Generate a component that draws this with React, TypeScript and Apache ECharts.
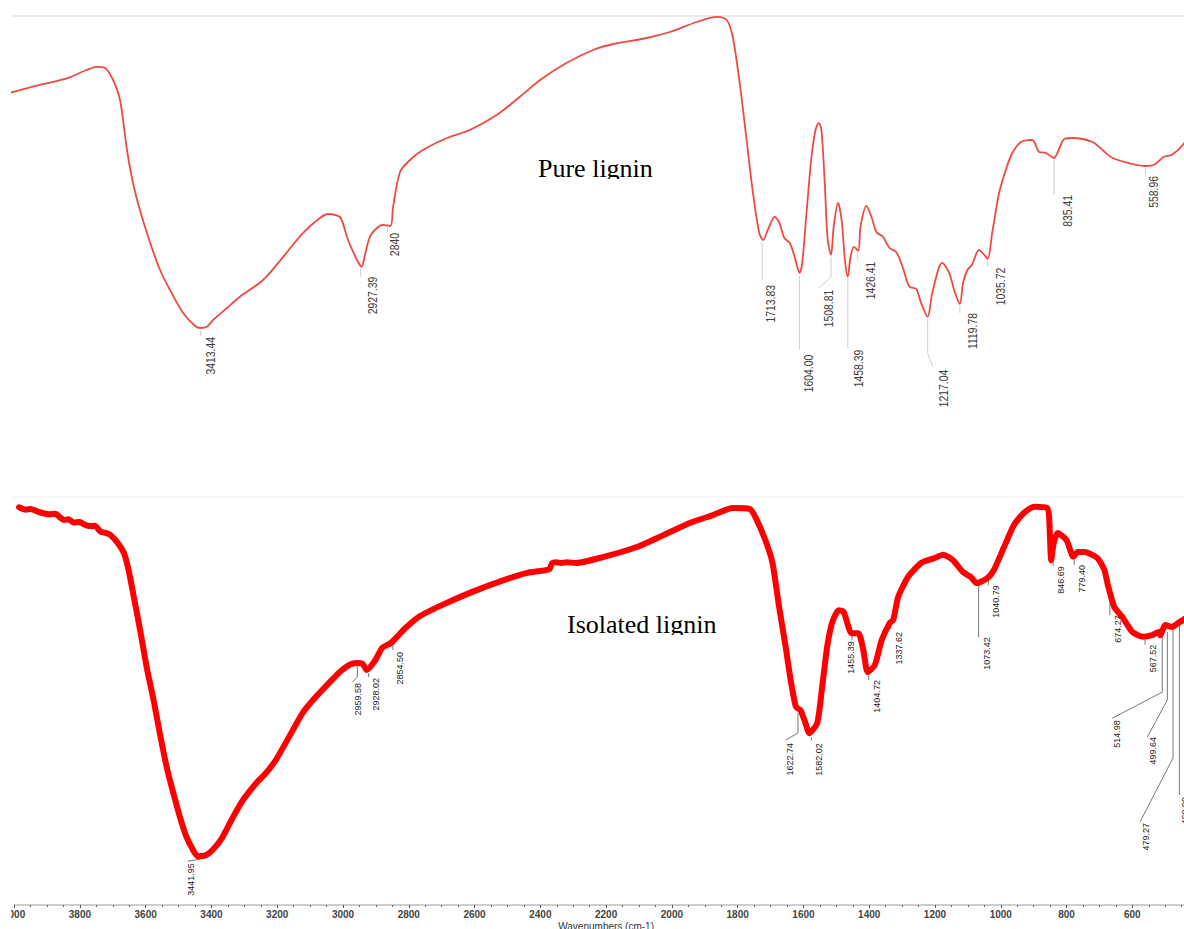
import React, { useEffect, useRef } from "react";
import * as echarts from "echarts";

// Shared wavenumber axis (cm-1), drawn high to low
const AXIS_MIN = 400;
const AXIS_MAX = 4000;
const AXIS_STEP = 200;

// Pure lignin spectrum (transmittance, arbitrary %)
const pureWavenumbers = [
  3990, 3899, 3818, 3758, 3727, 3702, 3678, 3657, 3636, 3618, 3597, 3566, 3536, 3506, 3467, 3430,
  3413.44, 3395, 3376, 3334, 3295, 3225, 3164, 3104, 3053, 3029, 3005, 2990, 2968, 2944, 2927.39,
  2917, 2902, 2881, 2863, 2840, 2832, 2811, 2781, 2742, 2669, 2600, 2518, 2449, 2388, 2307, 2228,
  2167, 2066, 1996, 1915, 1855, 1824, 1806, 1785, 1764, 1746, 1726, 1713.83, 1700, 1679, 1665, 1650,
  1634, 1619, 1604.0, 1596, 1584, 1569, 1556, 1546, 1538, 1528, 1519, 1508.81, 1501, 1488, 1477,
  1467, 1458.39, 1450, 1440, 1426.41, 1420, 1402, 1387, 1372, 1352, 1332, 1312, 1293, 1272, 1252,
  1237, 1217.04, 1203, 1173, 1152, 1137, 1119.78, 1110, 1097, 1083, 1062, 1046, 1035.72, 1022, 1001,
  981, 961, 935, 901, 880, 860, 835.41, 825, 803, 779, 719, 689, 658, 598, 558.96, 533, 503, 479,
  446, 420,
];
const pureTransmittance = [
  80.8, 82.8, 84.4, 86.5, 87.3, 87.0, 84.0, 79.0, 66.5, 58.3, 51.5, 43.3, 36.5, 31.5, 25.8, 22.5,
  22.0, 22.3, 24.0, 27.0, 29.8, 34.0, 39.8, 45.8, 49.5, 50.5, 50.2, 49.5, 44.0, 39.5, 37.3,
  40.3, 44.8, 47.0, 47.8, 47.5, 52.3, 61.0, 64.0, 66.5, 69.5, 71.5, 75.3, 79.8, 84.0, 88.3, 91.5,
  93.0, 94.5, 96.0, 98.5, 99.8, 99.0, 94.8, 83.3, 69.0, 56.5, 45.8, 44.0, 46.5, 49.8, 48.3, 44.5,
  43.3, 39.8, 35.8, 38.3, 49.8, 64.0, 71.5, 73.3, 71.5, 58.3, 44.0, 40.3, 47.3, 53.3, 49.0,
  39.0, 34.8, 39.8, 42.3, 41.3, 47.3, 52.5, 49.8, 46.0, 44.8, 42.0, 41.0, 37.3, 32.3, 31.8,
  28.3, 24.8, 30.8, 38.3, 35.8, 31.5, 28.0, 33.3, 36.5, 37.8, 41.5, 40.3, 39.3, 45.8, 55.8,
  61.5, 65.8, 68.5, 69.0, 66.0, 65.8, 64.5, 65.8, 69.3, 69.5, 68.5, 66.5, 64.5, 63.0, 62.5, 62.8, 64.8, 65.3,
  67.8, 71.5,
];
const purePeakLabels = [
  "3413.44", "2927.39", "2840", "1713.83", "1604.00", "1508.81", "1458.39",
  "1426.41", "1217.04", "1119.78", "1035.72", "835.41", "558.96",
];
// leader polylines and label anchors, in pixels relative to each peak
const purePeakLeaders = [
  [[0, 2], [0, 8]],
  [[-1, 2], [-1, 10]],
  [[-3, 1], [-3, 6]],
  [[-1, 2], [-1, 40]],
  [[0, 3], [0, 77]],
  [[0, 2], [0, 22], [-12, 33]],
  [[0, 2], [0, 71]],
  [[-1, 2], [-1, 9]],
  [[0, 2], [0, 36], [5, 50]],
  [[0, 2], [0, 9]],
  [[0, 2], [0, 8]],
  [[0, 2], [0, 37]],
  [[0, 2], [0, 9]],
];
const purePeakTextOffsets = [
  [9, 9], [10, 10], [4, 7], [7, 45], [8, 82], [-3, 35], [10, 73],
  [12, 11], [15, 53], [12, 9], [12, 9], [13, 37], [8, 10],
];

// Isolated lignin spectrum (transmittance, arbitrary %)
const isolatedWavenumbers = [
  3985, 3965, 3950, 3930, 3915, 3895, 3875, 3860, 3848, 3835, 3820, 3800, 3787, 3770, 3755, 3738,
  3720, 3708, 3687, 3666, 3652, 3636, 3617, 3597, 3576, 3557, 3536, 3516, 3496, 3476, 3456, 3441.95,
  3416, 3391, 3366, 3334, 3304, 3264, 3234, 3204, 3164, 3123, 3083, 3043, 3013, 2982, 2959.58, 2940,
  2928.02, 2902, 2881, 2854.5, 2836, 2811, 2771, 2711, 2609, 2509, 2439, 2373, 2364, 2352, 2338, 2319,
  2292, 2207, 2107, 2026, 1944, 1875, 1815, 1764, 1746, 1716, 1694, 1674, 1654, 1639, 1622.74, 1609,
  1594, 1582.02, 1558, 1543, 1528, 1513, 1493, 1478, 1463, 1455.39, 1433, 1418, 1404.72, 1383, 1362,
  1337.62, 1327, 1312, 1282, 1242, 1202, 1175, 1145, 1115, 1091, 1073.42, 1040.79, 1021, 990, 960,
  930, 899, 859, 853, 846.69, 839, 827, 800, 779.4, 766, 745, 706, 685, 674.27, 655, 630, 600, 567.52,
  540, 519, 514.98, 499.64, 479.27, 460.0, 446, 425,
];
const isolatedTransmittance = [
  97.5, 96.9, 97.1, 96.5, 96.1, 95.8, 95.9, 95.0, 94.4, 94.6, 93.8, 93.9, 93.3, 92.9, 93.0, 91.6,
  91.2, 90.8, 89.0, 86.3, 82.2, 75.6, 67.6, 58.5, 50.5, 42.4, 34.1, 27.8, 22.0, 17.1, 13.9, 12.4,
  12.7, 14.4, 17.1, 22.0, 26.1, 30.2, 32.7, 35.9, 41.5, 47.3, 51.2, 54.6, 57.1, 59.0, 59.5, 59.3,
  57.8, 60.2, 63.2, 64.4, 65.9, 68.0, 70.7, 73.2, 76.8, 79.8, 81.5, 82.4, 83.9, 84.1, 83.9, 84.1,
  83.9, 85.4, 87.8, 90.7, 93.7, 95.6, 97.3, 97.1, 95.1, 89.5, 83.9, 73.2, 63.4, 55.4, 48.8, 48.0,
  44.9, 42.4, 44.9, 53.7, 63.4, 69.3, 72.4, 72.0, 68.3, 66.8, 66.8, 62.7, 57.3, 59.0, 65.1,
  69.3, 70.0, 75.6, 80.5, 83.9, 85.1, 85.9, 84.6, 81.7, 80.5, 79.0, 80.2, 82.2, 87.8, 93.2,
  96.1, 97.6, 97.3, 95.1, 84.6, 88.8, 91.2, 89.5, 85.4, 86.6, 86.6, 85.1, 82.2, 78.5, 73.2, 70.7, 67.1, 65.9,
  66.3, 67.1, 66.3, 68.8, 68.3, 69.3, 70.0, 71.2,
];
const isolatedPeakLabels = [
  "3441.95", "2959.58", "2928.02", "2854.50", "1622.74", "1582.02", "1455.39", "1404.72", "1337.62",
  "1073.42", "1040.79", "846.69", "779.40", "674.27", "567.52", "514.98", "499.64", "479.27", "460.00",
];
const isolatedPeakLeaders = [
  [[2, 3], [-10, 5]],
  [[1, 3], [1, 14], [-4, 19]],
  [[2, 3], [2, 7]],
  [[2, 2], [2, 7]],
  [[2, 6], [2, 26], [-10, 33]],
  [[2, 4], [2, 7]],
  [[1, 3], [1, 7]],
  [[1, 4], [1, 8]],
  [[1, 3], [1, 6]],
  [[2, 1], [2, 54]],
  [[1, 2], [1, 7]],
  [[2, 2], [2, 6]],
  [[1, 3], [1, 8]],
  [[2, 8], [2, 30]],
  [[2, 3], [2, 8]],
  [[2, -3], [2, 57], [-48, 83]],
  [[2, 7], [2, 75], [-18, 112]],
  [[1, -4], [1, 131], [-32, 195]],
  [[1, 0], [1, 172]],
];
const isolatedPeakTextOffsets = [
  [-7, 7], [2, 20], [9, 8], [9, 9], [-6, 36], [10, 10], [0, 8], [9, 8], [9, 9],
  [10, 54], [9, 7], [10, 6], [9, 8], [10, 30], [10, 8], [-43, 85], [-12, 112], [-26, 196], [7, 174],
];

const pairs = (xs: number[], ys: number[]) => xs.map((x, i) => [x, ys[i]]);

const peakData = (labels: string[], xs: number[], ys: number[]) =>
  labels.map((lab, i) => {
    const w = parseFloat(lab);
    const k = xs.indexOf(w);
    return [w, ys[k], i];
  });

type PeakStyle = {
  font: string;
  fill: string;
  stroke: string;
  lineWidth: number;
  scaleX: number;
};

function peakRenderer(
  labels: string[],
  leaders: number[][][],
  offsets: number[][],
  st: PeakStyle
) {
  return (_params: any, api: any) => {
    const i = api.value(2);
    const p = api.coord([api.value(0), api.value(1)]);
    const pts = leaders[i].map(([dx, dy]) => [p[0] + dx, p[1] + dy]);
    const [tx, ty] = offsets[i];
    return {
      type: "group",
      children: [
        {
          type: "polyline",
          shape: { points: pts },
          style: { stroke: st.stroke, lineWidth: st.lineWidth, fill: null },
        },
        {
          type: "text",
          x: p[0] + tx,
          y: p[1] + ty,
          rotation: Math.PI / 2,
          scaleX: st.scaleX,
          style: {
            text: labels[i],
            font: st.font,
            fill: st.fill,
            align: "right",
            verticalAlign: "middle",
          },
        },
      ],
    };
  };
}

const SANS = '"Liberation Sans", Arial, sans-serif';
const SERIF = '"Liberation Serif", "Times New Roman", serif';

export default function App() {
  const ref = useRef<HTMLDivElement>(null);

  useEffect(() => {
    if (!ref.current) return;
    const chart = echarts.init(ref.current, undefined, { renderer: "svg" });

    const hiddenX = (gridIndex: number) => ({
      type: "value",
      gridIndex,
      min: AXIS_MIN,
      max: AXIS_MAX,
      interval: AXIS_STEP,
      inverse: true,
      show: false,
    });
    const frameX = (gridIndex: number, color: string, width: number) => ({
      type: "value",
      gridIndex,
      position: "top",
      min: AXIS_MIN,
      max: AXIS_MAX,
      inverse: true,
      axisLine: { show: true, onZero: false, lineStyle: { color, width } },
      axisTick: { show: false },
      axisLabel: { show: false },
      splitLine: { show: false },
    });

    const option: any = {
      animation: false,
      backgroundColor: "#ffffff",
      grid: [
        { left: 6.5, top: 16, width: 1191.6, height: 400 },
        { left: 6.5, top: 497, width: 1191.6, height: 408 },
      ],
      xAxis: [
        hiddenX(0),
        frameX(0, "#ececec", 2),
        {
          type: "value",
          gridIndex: 1,
          position: "bottom",
          min: AXIS_MIN,
          max: AXIS_MAX,
          interval: AXIS_STEP,
          inverse: true,
          axisLine: { show: true, onZero: false, lineStyle: { color: "#bdbdbd", width: 1.5 } },
          axisTick: { show: true, length: 3, lineStyle: { color: "#555", width: 1 } },
          minorTick: { show: true, splitNumber: 4, length: 2, lineStyle: { color: "#666", width: 1 } },
          axisLabel: {
            show: true,
            margin: 4,
            fontSize: 10,
            fontWeight: "bold",
            color: "#444",
            fontFamily: SANS,
            formatter: (v: number) => String(v),
          },
          splitLine: { show: false },
          minorSplitLine: { show: false },
          name: "Wavenumbers (cm-1)",
          nameLocation: "middle",
          nameGap: 16,
          nameTextStyle: { fontSize: 10, color: "#333", fontFamily: SANS },
        },
        frameX(1, "#f3f3f3", 1.5),
      ],
      yAxis: [
        { type: "value", gridIndex: 0, min: 0, max: 100, show: false },
        { type: "value", gridIndex: 1, min: 0.5, max: 100, show: false },
      ],
      series: [
        {
          type: "custom",
          xAxisIndex: 0,
          yAxisIndex: 0,
          z: 1,
          silent: true,
          data: peakData(purePeakLabels, pureWavenumbers, pureTransmittance),
          renderItem: peakRenderer(purePeakLabels, purePeakLeaders, purePeakTextOffsets, {
            font: `13px ${SANS}`,
            fill: "#3c3c3c",
            stroke: "#cfcfcf",
            lineWidth: 1,
            scaleX: 0.8,
          }),
        },
        {
          type: "line",
          name: "Pure lignin",
          xAxisIndex: 0,
          yAxisIndex: 0,
          z: 3,
          data: pairs(pureWavenumbers, pureTransmittance),
          showSymbol: false,
          smooth: 0.3,
          lineStyle: { color: "#ef4a42", width: 1.8 },
          silent: true,
        },
        {
          type: "custom",
          xAxisIndex: 2,
          yAxisIndex: 1,
          z: 1,
          silent: true,
          data: peakData(isolatedPeakLabels, isolatedWavenumbers, isolatedTransmittance),
          renderItem: peakRenderer(isolatedPeakLabels, isolatedPeakLeaders, isolatedPeakTextOffsets, {
            font: `9px ${SANS}`,
            fill: "#1a1a1a",
            stroke: "#555555",
            lineWidth: 0.8,
            scaleX: 1,
          }),
        },
        {
          type: "line",
          name: "Isolated lignin",
          xAxisIndex: 2,
          yAxisIndex: 1,
          z: 3,
          data: pairs(isolatedWavenumbers, isolatedTransmittance),
          showSymbol: false,
          smooth: 0.2,
          lineStyle: { color: "#ff0000", width: 6, cap: "round", join: "round" },
          silent: true,
        },
      ],
      graphic: [
        {
          type: "text",
          x: 538,
          y: 168,
          z: 10,
          style: { text: "Pure lignin", font: `26px ${SERIF}`, fill: "#000", verticalAlign: "middle" },
        },
        { type: "rect", z: 11, shape: { x: 534, y: 179, width: 126, height: 12 }, style: { fill: "#fff" } },
        {
          type: "text",
          x: 567,
          y: 624,
          z: 10,
          style: { text: "Isolated lignin", font: `26px ${SERIF}`, fill: "#000", verticalAlign: "middle" },
        },
        { type: "rect", z: 11, shape: { x: 563, y: 635, width: 162, height: 12 }, style: { fill: "#fff" } },
      ],
    };

    chart.setOption(option);
    return () => chart.dispose();
  }, []);

  return (
    <div
      style={{
        position: "fixed",
        left: 11,
        top: 0,
        width: 1173,
        height: 929,
        overflow: "hidden",
        background: "#ffffff",
      }}
    >
      <div ref={ref} style={{ position: "absolute", left: -11, top: 0, width: 1240, height: 940 }} />
    </div>
  );
}
